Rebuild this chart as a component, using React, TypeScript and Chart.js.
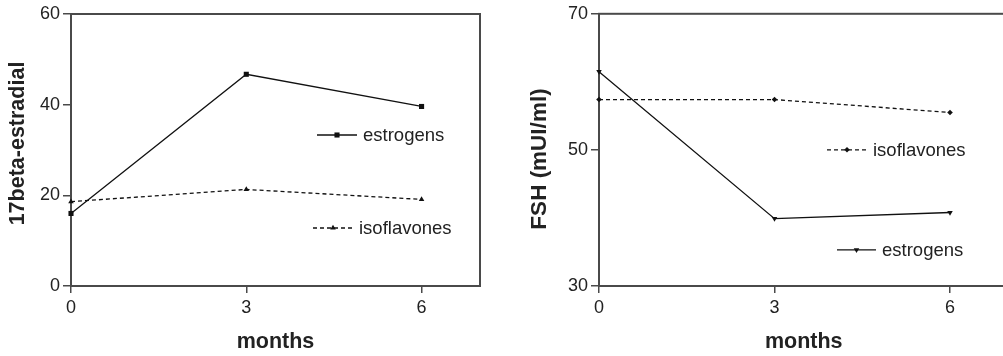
import React, { useEffect, useRef } from 'react';
import { Chart, registerables } from 'chart.js';

Chart.register(...registerables);

// ---- data ----
const months = [0, 3, 6];
const monthTicks = [0, 3, 6];
const seriesNames = ['estrogens', 'isoflavones'];
const estradiolEstrogens = [16, 46.7, 39.6];
const estradiolIsoflavones = [18.6, 21.3, 19.1];
const estradiolTicks = [0, 20, 40, 60];
const fshEstrogens = [61.5, 39.9, 40.8];
const fshIsoflavones = [57.4, 57.4, 55.5];
const fshTicks = [30, 50, 70];

const FONT = "'Liberation Sans', Arial, Helvetica, sans-serif";
const INK = '#111';
const AXIS = '#4a4a4a';
const TEXT = '#222';

function drawMarker(ctx: CanvasRenderingContext2D, style: string, x: number, y: number, r: number, rot: number) {
  ctx.save();
  ctx.translate(x, y);
  ctx.rotate((rot * Math.PI) / 180);
  ctx.beginPath();
  if (style === 'rect') {
    const s = Math.SQRT1_2 * r;
    ctx.rect(-s, -s, 2 * s, 2 * s);
  } else if (style === 'rectRot') {
    ctx.moveTo(0, -r);
    ctx.lineTo(r, 0);
    ctx.lineTo(0, r);
    ctx.lineTo(-r, 0);
    ctx.closePath();
  } else {
    for (let k = 0; k < 3; k++) {
      const a = (k * 2 * Math.PI) / 3;
      const px = Math.sin(a) * r;
      const py = -Math.cos(a) * r;
      if (k === 0) ctx.moveTo(px, py);
      else ctx.lineTo(px, py);
    }
    ctx.closePath();
  }
  ctx.fillStyle = INK;
  ctx.fill();
  ctx.restore();
}

const framePlugin = {
  id: 'frame',
  beforeDatasetsDraw(chart: any) {
    const { ctx, chartArea: a } = chart;
    ctx.save();
    ctx.strokeStyle = AXIS;
    ctx.lineWidth = 2;
    ctx.strokeRect(a.left, a.top, a.right - a.left, a.bottom - a.top);
    ctx.restore();
  },
};

const yTitlePlugin = {
  id: 'yTitle',
  afterDraw(chart: any, _args: any, opts: any) {
    const { ctx } = chart;
    ctx.save();
    ctx.translate(opts.x, opts.y);
    ctx.rotate(-Math.PI / 2);
    ctx.fillStyle = TEXT;
    ctx.font = `bold ${opts.size}px ${FONT}`;
    ctx.textAlign = 'center';
    ctx.textBaseline = 'middle';
    ctx.fillText(opts.text, 0, 0);
    ctx.restore();
  },
};

const inlineLegendPlugin = {
  id: 'inlineLegend',
  afterDraw(chart: any, _args: any, opts: any) {
    const { ctx, chartArea: a } = chart;
    (opts.items || []).forEach((it: any) => {
      const y = a.top + it.y;
      const x0 = a.left + it.x0;
      const x1 = a.left + it.x1;
      ctx.save();
      ctx.strokeStyle = INK;
      ctx.lineWidth = 1.3;
      ctx.setLineDash(it.dash || []);
      ctx.beginPath();
      ctx.moveTo(x0, y);
      ctx.lineTo(x1, y);
      ctx.stroke();
      ctx.restore();
      drawMarker(ctx, it.style, (x0 + x1) / 2, y, it.r, it.rot || 0);
      ctx.save();
      ctx.fillStyle = TEXT;
      ctx.font = `18.5px ${FONT}`;
      ctx.textBaseline = 'middle';
      ctx.textAlign = 'left';
      ctx.fillText(it.label, x1 + 6, y + 1);
      ctx.restore();
    });
  },
};

function makeSeries(label: string, values: number[], style: string, r: number, rot: number, dash: number[]) {
  return {
    label,
    data: months.map((m, i) => ({ x: m, y: values[i] })),
    borderColor: INK,
    borderWidth: 1.3,
    borderDash: dash,
    pointStyle: style,
    pointRadius: r,
    pointRotation: rot,
    pointBackgroundColor: INK,
    pointBorderColor: INK,
    pointBorderWidth: 0,
    tension: 0,
    clip: false,
  };
}

function buildOptions(p: any) {
  return {
    responsive: false,
    animation: false,
    events: [],
    layout: { padding: { left: 0, right: p.padRight, top: p.padTop, bottom: 0 } },
    plugins: {
      legend: { display: false },
      tooltip: { enabled: false },
      inlineLegend: { items: p.legendItems },
      yTitle: p.yTitle,
    },
    scales: {
      x: {
        type: 'linear',
        min: 0,
        max: 7,
        afterBuildTicks: (s: any) => {
          s.ticks = monthTicks.map((v) => ({ value: v }));
        },
        afterFit: (s: any) => {
          s.height = p.xAxisHeight;
        },
        ticks: { font: { size: 18, family: FONT }, color: TEXT, padding: 4, maxRotation: 0, autoSkip: false },
        grid: { drawOnChartArea: false, drawTicks: true, tickLength: 7, color: AXIS, lineWidth: 1.5 },
        border: { display: false },
        title: {
          display: true,
          text: 'months',
          color: TEXT,
          font: { size: 21.5, weight: 'bold', family: FONT },
          padding: { top: 0, bottom: 1.5 },
        },
      },
      y: {
        type: 'linear',
        min: p.yMin,
        max: p.yMax,
        afterBuildTicks: (s: any) => {
          s.ticks = p.yTicks.map((v: number) => ({ value: v }));
        },
        afterFit: (s: any) => {
          s.width = p.yAxisWidth;
        },
        ticks: { font: { size: 18, family: FONT }, color: TEXT, padding: 3, autoSkip: false },
        grid: { drawOnChartArea: false, drawTicks: true, tickLength: 8, color: AXIS, lineWidth: 1.5 },
        border: { display: false },
        title: { display: false },
      },
    },
  };
}

function LineChart(props: { width: number; height: number; left: number; datasets: any[]; p: any }) {
  const ref = useRef<HTMLCanvasElement | null>(null);
  useEffect(() => {
    if (!ref.current) return;
    const chart = new Chart(ref.current, {
      type: 'line',
      data: { datasets: props.datasets },
      options: buildOptions(props.p) as any,
      plugins: [framePlugin, inlineLegendPlugin, yTitlePlugin],
    });
    return () => chart.destroy();
  }, []);
  return (
    <canvas
      ref={ref}
      width={props.width}
      height={props.height}
      style={{ position: 'absolute', left: props.left, top: 0, width: props.width, height: props.height }}
    />
  );
}

export default function App() {
  useEffect(() => {
    document.body.style.margin = '0';
    document.body.style.overflow = 'hidden';
    document.body.style.background = '#fff';
  }, []);

  const leftDatasets = [
    makeSeries(seriesNames[0], estradiolEstrogens, 'rect', 3.6, 0, []),
    makeSeries(seriesNames[1], estradiolIsoflavones, 'triangle', 3.2, 0, [4, 3]),
  ];
  const rightDatasets = [
    makeSeries(seriesNames[0], fshEstrogens, 'triangle', 3.2, 180, []),
    makeSeries(seriesNames[1], fshIsoflavones, 'rectRot', 2.8, 0, [4, 3]),
  ];

  const leftP = {
    padRight: 20,
    padTop: 14,
    xAxisHeight: 70,
    yAxisWidth: 71,
    yMin: 0,
    yMax: 60,
    yTicks: estradiolTicks,
    yTitle: { text: '17beta-estradial', x: 18.5, y: 143.5, size: 21.5 },
    legendItems: [
      { label: seriesNames[0], x0: 246, x1: 286, y: 121, style: 'rect', r: 3.6, dash: [] },
      { label: seriesNames[1], x0: 242, x1: 282, y: 214, style: 'triangle', r: 3.2, dash: [4, 3] },
    ],
  };
  const rightP = {
    padRight: 11.5,
    padTop: 11,
    xAxisHeight: 70,
    yAxisWidth: 99,
    yMin: 30,
    yMax: 70,
    yTicks: fshTicks,
    yTitle: { text: 'FSH (mUI/ml)', x: 40, y: 159, size: 22.5 },
    legendItems: [
      { label: seriesNames[1], x0: 228, x1: 268, y: 136, style: 'rectRot', r: 2.8, dash: [4, 3] },
      { label: seriesNames[0], x0: 238, x1: 277, y: 236, style: 'triangle', r: 3.2, rot: 180, dash: [] },
    ],
  };

  return (
    <div style={{ position: 'relative', width: 1003, height: 356, overflow: 'hidden', background: '#fff' }}>
      <LineChart width={500} height={356} left={0} datasets={leftDatasets} p={leftP} />
      <LineChart width={520} height={356} left={500} datasets={rightDatasets} p={rightP} />
    </div>
  );
}
